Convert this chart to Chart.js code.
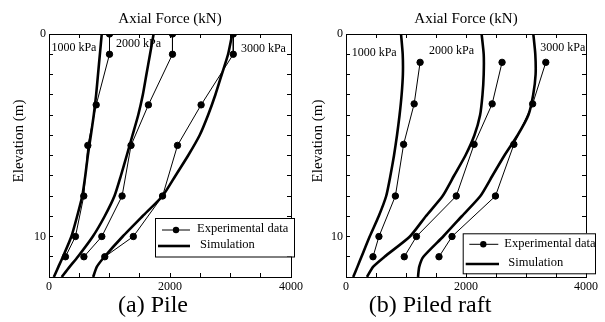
<!DOCTYPE html>
<html>
<head>
<meta charset="utf-8">
<script src="https://cdn.jsdelivr.net/npm/chart.js@4.4.0/dist/chart.umd.min.js"></script>
<style>
  body { margin: 0; background: #fff; }
  #wrap { position: relative; width: 605px; height: 322px; overflow: hidden; background: #fff; }
  canvas { position: absolute; top: 0; }
  #pileChart { left: 0; }
  #raftChart { left: 300px; }
</style>
</head>
<body>
<div id="wrap">
  <canvas id="pileChart" width="310" height="322"></canvas>
  <canvas id="raftChart" width="305" height="322"></canvas>
</div>
<script>
const serif = "'Liberation Serif', 'Times New Roman', serif";

// Elevation (m) of the simulation curves
const elevSim = [0, 1, 2, 3, 4, 5, 6, 7, 8, 9, 10, 11, 11.5, 12];

// (a) Pile - axial force (kN)
const elevPileExp = [0, 1, 3.5, 5.5, 8, 10, 11];
const pileExp1000 = [1000, 1000, 780, 642, 575, 437, 272];
const pileExp2000 = [2041, 2041, 1643, 1356, 1208, 873, 577];
const pileExp3000 = [3046, 3046, 2514, 2124, 1877, 1394, 922];
const pileSim1000 = [872, 841, 810, 779, 740, 692, 642, 600, 550, 465, 370, 230, 155, 80];
const pileSim2000 = [1729, 1670, 1610, 1551, 1475, 1380, 1285, 1188, 1082, 920, 724, 477, 340, 210];
const pileSim3000 = [3029, 2960, 2855, 2750, 2630, 2490, 2300, 2090, 1877, 1545, 1218, 917, 790, 730];

// (b) Piled raft - axial force (kN)
const elevRaftExp = [1.4, 3.45, 5.45, 8, 10, 11];
const raftExp1000 = [1235, 1136, 960, 823, 549, 450];
const raftExp2000 = [2601, 2436, 2135, 1838, 1174, 971];
const raftExp3000 = [3330, 3111, 2798, 2491, 1767, 1550];
const raftSim1000 = [917, 945, 948, 927, 893, 850, 800, 740, 670, 545, 395, 258, 190, 120];
const raftSim2000 = [2260, 2295, 2295, 2275, 2235, 2140, 1990, 1800, 1610, 1330, 1065, 642, 450, 350];
const raftSim3000 = [3122, 3155, 3160, 3120, 3040, 2860, 2640, 2440, 2240, 1930, 1620, 1290, 1220, 1200];

const loadLabels = ["1000 kPa", "2000 kPa", "3000 kPa"];
const legendLabels = ["Experimental data", "Simulation"];

function pts(xs, ys) {
  return xs.map((x, i) => ({ x: x, y: ys[i] }));
}

function expSet(label, xs, ys) {
  return {
    label: label,
    data: pts(xs, ys),
    showLine: true,
    borderColor: "#000",
    backgroundColor: "#000",
    borderWidth: 1,
    pointRadius: 3.2,
    pointHoverRadius: 3.2,
    tension: 0,
  };
}

function simSet(label, xs) {
  return {
    label: label,
    data: pts(xs, elevSim),
    showLine: true,
    borderColor: "#000",
    backgroundColor: "#000",
    borderWidth: 2.6,
    pointRadius: 0,
    pointHoverRadius: 0,
    tension: 0.2,
  };
}

// Draws the load labels, y title, caption and the boxed legend
const figureText = {
  id: "figureText",
  afterDatasetsDraw(chart, args, o) {
    const ctx = chart.ctx;
    const xs = chart.scales.x;
    const ys = chart.scales.y;
    ctx.save();
    ctx.fillStyle = "#000";
    ctx.strokeStyle = "#000";

    // load labels
    ctx.font = "12px " + serif;
    ctx.textAlign = "left";
    ctx.textBaseline = "middle";
    o.loadPos.forEach((p, i) => {
      ctx.fillText(loadLabels[i], xs.getPixelForValue(p[0]), ys.getPixelForValue(p[1]));
    });

    // y axis title
    ctx.save();
    ctx.translate(o.yTitleX, 141);
    ctx.rotate(-Math.PI / 2);
    ctx.font = "15px " + serif;
    ctx.textAlign = "center";
    ctx.fillText("Elevation (m)", 0, 0);
    ctx.restore();

    // caption
    ctx.font = "24px " + serif;
    ctx.textAlign = "center";
    ctx.fillText(o.caption, o.captionX, 306);

    // legend
    const lg = o.legend;
    ctx.fillStyle = "#fff";
    ctx.fillRect(lg.left, lg.top, lg.width, lg.height);
    ctx.lineWidth = 1;
    ctx.strokeRect(lg.left + 0.5, lg.top + 0.5, lg.width, lg.height);
    ctx.fillStyle = "#000";
    ctx.font = "12.5px " + serif;
    ctx.textAlign = "left";

    const r1 = lg.rows[0];
    ctx.lineWidth = 1;
    ctx.beginPath();
    ctx.moveTo(r1.x1, r1.y);
    ctx.lineTo(r1.x2, r1.y);
    ctx.stroke();
    ctx.beginPath();
    ctx.arc(r1.dot, r1.y, 3.2, 0, Math.PI * 2);
    ctx.fill();
    ctx.fillText(legendLabels[0], r1.textX, r1.y - 1);

    const r2 = lg.rows[1];
    ctx.lineWidth = 2.6;
    ctx.beginPath();
    ctx.moveTo(r2.x1, r2.y);
    ctx.lineTo(r2.x2, r2.y);
    ctx.stroke();
    ctx.fillText(legendLabels[1], r2.textX, r2.y - 1);

    ctx.restore();
  },
};

function scalesFor(yWidth) {
  const tickFont = { family: serif, size: 12 };
  const frame = { display: true, color: "#000", width: 1 };
  const marks = {
    display: true,
    drawOnChartArea: false,
    drawTicks: true,
    tickLength: -4,
    color: "#000",
    lineWidth: 1,
  };
  return {
    x: {
      type: "linear",
      position: "bottom",
      min: 0,
      max: 4000,
      border: frame,
      grid: marks,
      ticks: {
        stepSize: 500,
        autoSkip: false,
        maxRotation: 0,
        padding: 7,
        color: "#000",
        font: tickFont,
        callback: (v) => (v % 2000 === 0 ? v : ""),
      },
      afterFit: (s) => { s.height = 45; },
    },
    x2: {
      type: "linear",
      position: "top",
      min: 0,
      max: 4000,
      border: frame,
      grid: marks,
      ticks: { stepSize: 500, display: false },
      title: {
        display: true,
        text: "Axial Force (kN)",
        color: "#000",
        font: { family: serif, size: 15 },
        padding: { top: 10, bottom: 0 },
      },
      afterFit: (s) => { s.height = 34; },
    },
    y: {
      type: "linear",
      position: "left",
      reverse: true,
      min: 0,
      max: 12,
      border: frame,
      grid: marks,
      ticks: {
        stepSize: 1,
        autoSkip: false,
        padding: 7,
        color: "#000",
        font: tickFont,
        callback: (v) => (v === 0 || v === 10 ? v : ""),
      },
      afterFit: (s) => { s.width = yWidth; },
    },
    y2: {
      type: "linear",
      position: "right",
      reverse: true,
      min: 0,
      max: 12,
      border: frame,
      grid: marks,
      ticks: { stepSize: 1, display: false },
      afterFit: (s) => { s.width = 0; },
    },
  };
}

function makeChart(id, sets, yWidth, rightPad, textOpts) {
  return new Chart(document.getElementById(id), {
    type: "scatter",
    data: { datasets: sets },
    options: {
      responsive: false,
      animation: false,
      events: [],
      layout: { padding: { left: 0, top: 0, bottom: 0, right: rightPad } },
      scales: scalesFor(yWidth),
      plugins: {
        legend: { display: false },
        tooltip: { enabled: false },
        figureText: textOpts,
      },
    },
    plugins: [figureText],
  });
}

makeChart(
  "pileChart",
  [
    simSet("Simulation 1000 kPa", pileSim1000),
    simSet("Simulation 2000 kPa", pileSim2000),
    simSet("Simulation 3000 kPa", pileSim3000),
    expSet("Experimental 1000 kPa", pileExp1000, elevPileExp),
    expSet("Experimental 2000 kPa", pileExp2000, elevPileExp),
    expSet("Experimental 3000 kPa", pileExp3000, elevPileExp),
  ],
  49,
  17.5,
  {
    loadPos: [[40, 0.69], [1109, 0.49], [3172, 0.74]],
    yTitleX: 19,
    caption: "(a) Pile",
    captionX: 153,
    legend: {
      left: 155, top: 218, width: 139, height: 38.5,
      rows: [
        { y: 230, x1: 162, x2: 190, dot: 176, textX: 197 },
        { y: 246, x1: 158, x2: 190, textX: 200 },
      ],
    },
  }
);

makeChart(
  "raftChart",
  [
    simSet("Simulation 1000 kPa", raftSim1000),
    simSet("Simulation 2000 kPa", raftSim2000),
    simSet("Simulation 3000 kPa", raftSim3000),
    expSet("Experimental 1000 kPa", raftExp1000, elevRaftExp),
    expSet("Experimental 2000 kPa", raftExp2000, elevRaftExp),
    expSet("Experimental 3000 kPa", raftExp3000, elevRaftExp),
  ],
  46,
  15.7,
  {
    loadPos: [[94, 0.94], [1383, 0.82], [3238, 0.67]],
    yTitleX: 18.5,
    caption: "(b) Piled raft",
    captionX: 130,
    legend: {
      left: 162.7, top: 233.3, width: 132.3, height: 40,
      rows: [
        { y: 244.3, x1: 169.3, x2: 198.3, dot: 183.3, textX: 204.3 },
        { y: 264, x1: 165.7, x2: 199, textX: 208.3 },
      ],
    },
  }
);
</script>
</body>
</html>
